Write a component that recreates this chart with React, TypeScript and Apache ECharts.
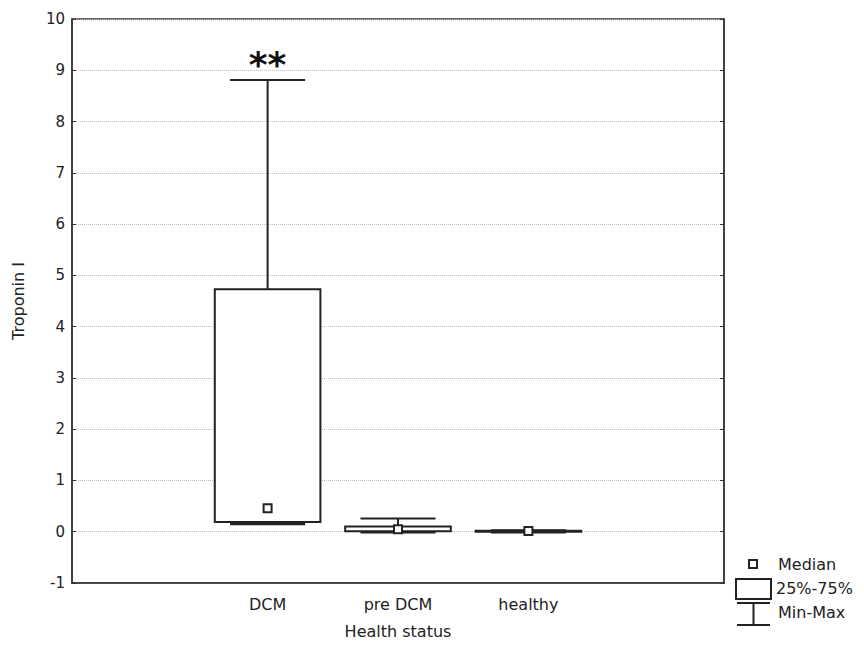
import React, { useEffect, useRef } from "react";
import * as echarts from "echarts";

const categories = ["", "DCM", "pre DCM", "healthy", ""];
const groups = ["DCM", "pre DCM", "healthy"];
const minValues = [0.16, 0.0, 0.0];
const q1Values = [0.19, 0.01, 0.005];
const medianValues = [0.46, 0.05, 0.015];
const q3Values = [4.73, 0.1, 0.02];
const maxValues = [8.81, 0.26, 0.03];
const annotations = ["**", "", ""];
const yTicks = { min: -1, max: 10, interval: 1 };
const legendLabels = ["Median", "25%-75%", "Min-Max"];

const FONT = "DejaVu Sans";
const INK = "#222";

export default function App() {
  const ref = useRef<HTMLDivElement>(null);
  useEffect(() => {
    if (!ref.current) return;
    const chart = echarts.init(ref.current, null, { renderer: "svg" });
    const data = groups.map((g, i) => [
      categories.indexOf(g),
      minValues[i],
      q1Values[i],
      medianValues[i],
      q3Values[i],
      maxValues[i],
    ]);
    const renderItem = (params: any, api: any) => {
      const xi = api.value(0);
      const band = api.size([1, 0])[0];
      const boxW = band * 0.81;
      const capW = band * 0.575;
      const pMin = api.coord([xi, api.value(1)]);
      const pQ1 = api.coord([xi, api.value(2)]);
      const pMed = api.coord([xi, api.value(3)]);
      const pQ3 = api.coord([xi, api.value(4)]);
      const pMax = api.coord([xi, api.value(5)]);
      const cx = pMed[0];
      const lineStyle = { stroke: INK, lineWidth: 2, fill: null };
      const children: any[] = [
        {
          type: "line",
          shape: { x1: cx, y1: pMax[1], x2: cx, y2: pQ3[1] },
          style: lineStyle,
        },
        {
          type: "line",
          shape: { x1: cx, y1: pQ1[1], x2: cx, y2: pMin[1] },
          style: lineStyle,
        },
        {
          type: "rect",
          shape: {
            x: cx - boxW / 2,
            y: pQ3[1],
            width: boxW,
            height: Math.max(pQ1[1] - pQ3[1], 1),
          },
          style: { fill: "#fff", stroke: INK, lineWidth: 2 },
        },
        {
          type: "line",
          shape: { x1: cx - capW / 2, y1: pMax[1], x2: cx + capW / 2, y2: pMax[1] },
          style: lineStyle,
        },
        {
          type: "line",
          shape: { x1: cx - capW / 2, y1: pMin[1] + 0.5, x2: cx + capW / 2, y2: pMin[1] + 0.5 },
          style: { stroke: INK, lineWidth: 2.5, fill: null },
        },
        {
          type: "rect",
          shape: { x: cx - 4, y: pMed[1] - 4, width: 8, height: 8 },
          style: { fill: "#fff", stroke: INK, lineWidth: 2 },
        },
      ];
      const ann = annotations[params.dataIndex];
      if (ann) {
        children.push({
          type: "text",
          style: {
            text: ann,
            x: cx,
            y: pMax[1] + 2,
            align: "center",
            verticalAlign: "bottom",
            fontSize: 36,
            fontWeight: "bold",
            fontFamily: FONT,
            fill: "#111",
          },
        });
      }
      return { type: "group", children };
    };

    const legendX = 736;
    chart.setOption({
      animation: false,
      backgroundColor: "#fff",
      grid: {
        left: 72,
        right: 140,
        top: 19,
        bottom: 65,
        show: true,
        borderColor: "#333",
        borderWidth: 1.5,
        backgroundColor: "transparent",
      },
      xAxis: {
        type: "category",
        data: categories,
        boundaryGap: true,
        name: "Health status",
        nameLocation: "middle",
        nameGap: 40,
        nameTextStyle: { fontFamily: FONT, fontSize: 16, color: INK },
        axisLine: { onZero: false, lineStyle: { color: "#333", width: 1.5 } },
        axisTick: { inside: true, alignWithLabel: true, length: 4, lineStyle: { color: "#333" } },
        axisLabel: { fontFamily: FONT, fontSize: 16, color: INK, margin: 13 },
        splitLine: { show: false },
      },
      yAxis: [
        {
          type: "value",
          min: yTicks.min,
          max: yTicks.max,
          interval: yTicks.interval,
          name: "Troponin I",
          nameLocation: "middle",
          nameGap: 46,
          nameRotate: 90,
          nameTextStyle: { fontFamily: FONT, fontSize: 16, color: INK },
          axisLine: { show: true, lineStyle: { color: "#333", width: 1.5 } },
          axisTick: { show: true, inside: true, length: 4, lineStyle: { color: "#333" } },
          axisLabel: { fontFamily: FONT, fontSize: 15, color: INK, margin: 7 },
          splitLine: {
            show: true,
            lineStyle: { color: "#bbb", type: "dotted", width: 1 },
          },
        },
        {
          type: "value",
          position: "right",
          min: yTicks.min,
          max: yTicks.max,
          interval: yTicks.interval,
          axisLine: { show: true, lineStyle: { color: "#333", width: 1.5 } },
          axisTick: { show: true, inside: true, length: 4, lineStyle: { color: "#333" } },
          axisLabel: { show: false },
          splitLine: { show: false },
        },
      ],
      series: [
        {
          type: "custom",
          renderItem,
          data,
          encode: { x: 0, y: [1, 2, 3, 4, 5] },
          clip: false,
        },
      ],
      graphic: [
        {
          type: "rect",
          shape: { x: legendX + 13, y: 560, width: 8, height: 8 },
          style: { fill: "#fff", stroke: INK, lineWidth: 2 },
        },
        {
          type: "text",
          style: {
            text: legendLabels[0],
            x: legendX + 42,
            y: 564,
            verticalAlign: "middle",
            fontFamily: FONT,
            fontSize: 16,
            fill: INK,
          },
        },
        {
          type: "rect",
          shape: { x: legendX, y: 579, width: 35, height: 20 },
          style: { fill: "#fff", stroke: INK, lineWidth: 2 },
        },
        {
          type: "text",
          style: {
            text: legendLabels[1],
            x: legendX + 40,
            y: 588,
            verticalAlign: "middle",
            fontFamily: FONT,
            fontSize: 16,
            fill: INK,
          },
        },
        {
          type: "line",
          shape: { x1: legendX + 1, y1: 603, x2: legendX + 34, y2: 603 },
          style: { stroke: INK, lineWidth: 2 },
        },
        {
          type: "line",
          shape: { x1: legendX + 17.5, y1: 603, x2: legendX + 17.5, y2: 625 },
          style: { stroke: INK, lineWidth: 2 },
        },
        {
          type: "line",
          shape: { x1: legendX + 1, y1: 625, x2: legendX + 34, y2: 625 },
          style: { stroke: INK, lineWidth: 2 },
        },
        {
          type: "text",
          style: {
            text: legendLabels[2],
            x: legendX + 42,
            y: 612,
            verticalAlign: "middle",
            fontFamily: FONT,
            fontSize: 16,
            fill: INK,
          },
        },
      ],
    });
    return () => chart.dispose();
  }, []);
  return <div ref={ref} style={{ width: 864, height: 648, margin: -8 }} />;
}
